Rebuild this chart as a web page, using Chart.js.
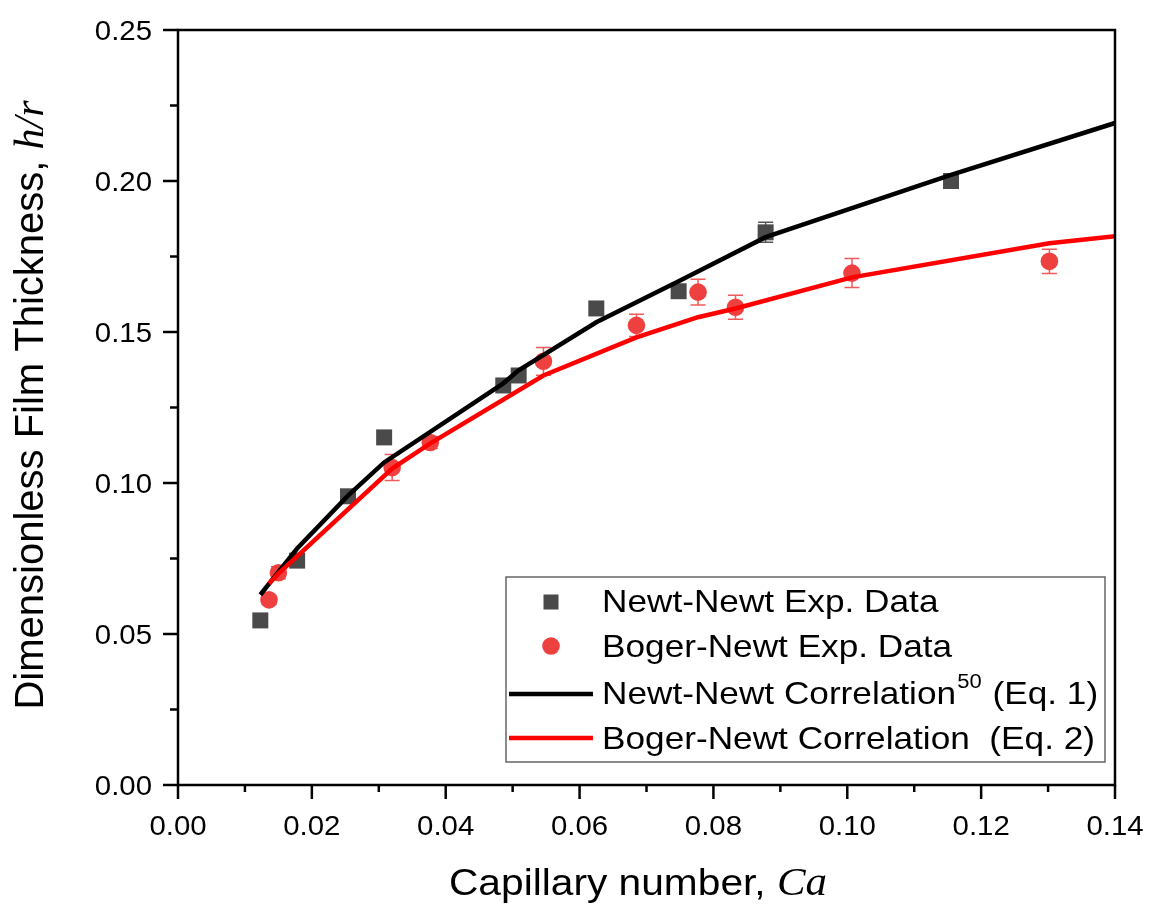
<!DOCTYPE html>
<html>
<head>
<meta charset="utf-8">
<title>Film thickness vs capillary number</title>
<script src="https://cdn.jsdelivr.net/npm/chart.js@4.4.0/dist/chart.umd.min.js"></script>
<style>
  html, body { margin: 0; padding: 0; background: #fff; }
</style>
</head>
<body>
<canvas id="chart" width="1152" height="904"></canvas>
<script>
// Newt-Newt experiments
let newtCa  = [0.0123, 0.0178, 0.0254, 0.0308, 0.0486, 0.0509, 0.0625, 0.0748, 0.0878, 0.1155];
let newtH   = [0.0545, 0.0743, 0.0956, 0.1151, 0.1323, 0.1356, 0.1578, 0.1635, 0.1830, 0.2000];
let newtErr = [0, 0, 0, 0, 0, 0, 0, 0, 0.0033, 0];

// Boger-Newt experiments
let bogerCa  = [0.0136, 0.0150, 0.0320, 0.0377, 0.0546, 0.0685, 0.0777, 0.0833, 0.1007, 0.1302];
let bogerH   = [0.0613, 0.0703, 0.1051, 0.1134, 0.1403, 0.1522, 0.1632, 0.1582, 0.1695, 0.1734];
let bogerErr = [0.0015, 0.002, 0.0043, 0.002, 0.0046, 0.0037, 0.0043, 0.0040, 0.0048, 0.0040];

// correlations (Eq. 1 and Eq. 2)
let newtCorrCa  = [0.0123, 0.0178, 0.0254, 0.0308, 0.0486, 0.0509, 0.0625, 0.0748, 0.0878, 0.1155, 0.14];
let newtCorrH   = [0.0630, 0.0783, 0.0958, 0.1068, 0.1330, 0.1373, 0.1532, 0.1668, 0.1814, 0.2020, 0.2192];
let bogerCorrCa = [0.0136, 0.0150, 0.0320, 0.0377, 0.0546, 0.0685, 0.0777, 0.0833, 0.1007, 0.1302, 0.14];
let bogerCorrH  = [0.0667, 0.0700, 0.1048, 0.1131, 0.1356, 0.1482, 0.1549, 0.1578, 0.1681, 0.1794, 0.1817];

// axis tick labels
let xTicks = [0, 0.02, 0.04, 0.06, 0.08, 0.10, 0.12, 0.14];
let yTicks = [0, 0.05, 0.10, 0.15, 0.20, 0.25];

const SANS = "'Liberation Sans', Arial, sans-serif";
const SERIF = "'Liberation Serif', 'DejaVu Serif', serif";
const GRAY = '#4a4a4a';
const RED_PT = 'rgb(239,64,64)';
const RED_ERR = 'rgb(240,90,90)';

const pts = (xs, ys) => xs.map((v, i) => ({ x: v, y: ys[i] }));

// draws a run of [text, font, dx, dy] pieces, widened horizontally by `wide`
function wideText(ctx, pieces, x, y, align, wide) {
  let total = 0;
  pieces.forEach(p => { ctx.font = p[1]; total += ctx.measureText(p[0]).width + (p[2] || 0); });
  let start = align === 'center' ? -total / 2 : align === 'right' ? -total : 0;
  ctx.save();
  ctx.translate(x, y);
  ctx.scale(wide || 1.1, 1);
  ctx.textAlign = 'left';
  ctx.textBaseline = 'alphabetic';
  pieces.forEach(p => {
    ctx.font = p[1];
    ctx.fillText(p[0], start + (p[2] || 0), p[3] || 0);
    start += ctx.measureText(p[0]).width + (p[2] || 0);
  });
  ctx.restore();
}

// vertical error bars, drawn under the markers
const errorBars = {
  id: 'errorBars',
  beforeDatasetsDraw(chart) {
    const { ctx, scales: { x, y } } = chart;
    const draw = (xs, ys, es, color) => {
      ctx.strokeStyle = color;
      ctx.lineWidth = 1.5;
      xs.forEach((v, i) => {
        if (!es[i]) return;
        const px = x.getPixelForValue(v);
        const top = y.getPixelForValue(ys[i] + es[i]);
        const bot = y.getPixelForValue(ys[i] - es[i]);
        ctx.beginPath();
        ctx.moveTo(px, top); ctx.lineTo(px, bot);
        ctx.moveTo(px - 7.5, top); ctx.lineTo(px + 7.5, top);
        ctx.moveTo(px - 7.5, bot); ctx.lineTo(px + 7.5, bot);
        ctx.stroke();
      });
    };
    ctx.save();
    draw(newtCa, newtH, newtErr, '#555');
    draw(bogerCa, bogerH, bogerErr, RED_ERR);
    ctx.restore();
  }
};

// box frame, outward ticks, tick labels, axis titles and the legend
const decorations = {
  id: 'decorations',
  afterDraw(chart) {
    const { ctx, chartArea: a, scales: { x, y } } = chart;
    ctx.save();
    ctx.strokeStyle = '#000';
    ctx.lineWidth = 2.5;
    ctx.strokeRect(a.left, a.top, a.right - a.left, a.bottom - a.top);

    x.ticks.forEach((t, i) => {
      const px = x.getPixelForValue(t.value);
      const len = i % 2 === 0 ? 14 : 7;
      ctx.beginPath(); ctx.moveTo(px, a.bottom); ctx.lineTo(px, a.bottom + len); ctx.stroke();
    });
    y.ticks.forEach((t, i) => {
      const py = y.getPixelForValue(t.value);
      const len = i % 2 === 0 ? 15 : 8;
      ctx.beginPath(); ctx.moveTo(a.left, py); ctx.lineTo(a.left - len, py); ctx.stroke();
    });

    ctx.fillStyle = '#000';
    const tickFont = '28px ' + SANS;
    xTicks.forEach(v => {
      wideText(ctx, [[v.toFixed(2), tickFont]], x.getPixelForValue(v), a.bottom + 50, 'center', 1.05);
    });
    yTicks.forEach(v => {
      wideText(ctx, [[v.toFixed(2), tickFont]], a.left - 26, y.getPixelForValue(v) + 10, 'right', 1.05);
    });

    // x title
    wideText(ctx, [['Capillary number, ', '37px ' + SANS], ['Ca', 'italic 39px ' + SERIF]], 638, 895, 'center');

    // y title
    const yt1 = 'Dimensionless Film Thickness, ', yt2 = 'h/r';
    ctx.font = '40px ' + SANS;
    const v1 = ctx.measureText(yt1).width;
    ctx.font = 'italic 42px ' + SERIF;
    const v2 = ctx.measureText(yt2).width;
    ctx.save();
    ctx.translate(43, 405);
    ctx.rotate(-Math.PI / 2);
    ctx.textAlign = 'left';
    ctx.textBaseline = 'alphabetic';
    const sy = -(v1 + v2) / 2;
    ctx.font = '40px ' + SANS;
    ctx.fillText(yt1, sy, 0);
    ctx.font = 'italic 42px ' + SERIF;
    ctx.fillText(yt2, sy + v1, 0);
    ctx.restore();

    // legend
    const L = 506, T = 577, R = 1105, B = 762;
    ctx.fillStyle = '#fff';
    ctx.fillRect(L, T, R - L, B - T);
    ctx.strokeStyle = '#666';
    ctx.lineWidth = 1.5;
    ctx.strokeRect(L, T, R - L, B - T);

    const tx = 602, sym = 551;
    ctx.fillStyle = GRAY;
    ctx.fillRect(sym - 7.5, 594.5, 15, 15);
    ctx.fillStyle = RED_PT;
    ctx.beginPath(); ctx.arc(sym, 646, 8.8, 0, Math.PI * 2); ctx.fill();
    ctx.lineWidth = 4.5;
    ctx.strokeStyle = '#000';
    ctx.beginPath(); ctx.moveTo(509, 694); ctx.lineTo(593, 694); ctx.stroke();
    ctx.strokeStyle = '#ff0000';
    ctx.beginPath(); ctx.moveTo(509, 738); ctx.lineTo(593, 738); ctx.stroke();

    ctx.fillStyle = '#000';
    const lf = '32px ' + SANS;
    wideText(ctx, [['Newt-Newt Exp. Data', lf]], tx, 612, 'left');
    wideText(ctx, [['Boger-Newt Exp. Data', lf]], tx, 657, 'left');
    wideText(ctx, [['Newt-Newt Correlation', lf], ['50', '20px ' + SANS, 1, -16], [' (Eq. 1)', lf, 1, 0]], tx, 704, 'left');
    wideText(ctx, [['Boger-Newt Correlation  (Eq. 2)', lf]], tx, 749, 'left');
    ctx.restore();
  }
};

window.onload = function() {
  new Chart(document.getElementById('chart'), {
    type: 'scatter',
    data: {
      datasets: [
        {
          label: 'Boger-Newt Correlation  (Eq. 2)',
          type: 'line',
          data: pts(bogerCorrCa, bogerCorrH),
          borderColor: '#ff0000',
          borderWidth: 4.5,
          pointRadius: 0,
          tension: 0,
          fill: false,
          order: 0
        },
        {
          label: 'Newt-Newt Correlation (Eq. 1)',
          type: 'line',
          data: pts(newtCorrCa, newtCorrH),
          borderColor: '#000',
          borderWidth: 4.5,
          pointRadius: 0,
          tension: 0,
          fill: false,
          order: 1
        },
        {
          label: 'Boger-Newt Exp. Data',
          data: pts(bogerCa, bogerH),
          pointStyle: 'circle',
          pointRadius: 8.8,
          backgroundColor: RED_PT,
          borderWidth: 0,
          order: 2
        },
        {
          label: 'Newt-Newt Exp. Data',
          data: pts(newtCa, newtH),
          pointStyle: 'rect',
          pointRadius: 11.3,
          backgroundColor: GRAY,
          borderWidth: 0,
          order: 3
        }
      ]
    },
    options: {
      responsive: false,
      animation: false,
      devicePixelRatio: 1,
      layout: { padding: { left: 0, top: 30, right: 37, bottom: 0 } },
      plugins: {
        legend: { display: false },
        tooltip: { enabled: false }
      },
      scales: {
        x: {
          type: 'linear',
          min: 0,
          max: 0.14,
          afterFit: s => { s.height = 119; },
          grid: { display: false, drawTicks: false },
          border: { display: false },
          ticks: { stepSize: 0.01, autoSkip: false, display: false }
        },
        y: {
          type: 'linear',
          min: 0,
          max: 0.25,
          afterFit: s => { s.width = 178; },
          grid: { display: false, drawTicks: false },
          border: { display: false },
          ticks: { stepSize: 0.025, autoSkip: false, display: false }
        }
      }
    },
    plugins: [errorBars, decorations]
  });
};
</script>
</body>
</html>
